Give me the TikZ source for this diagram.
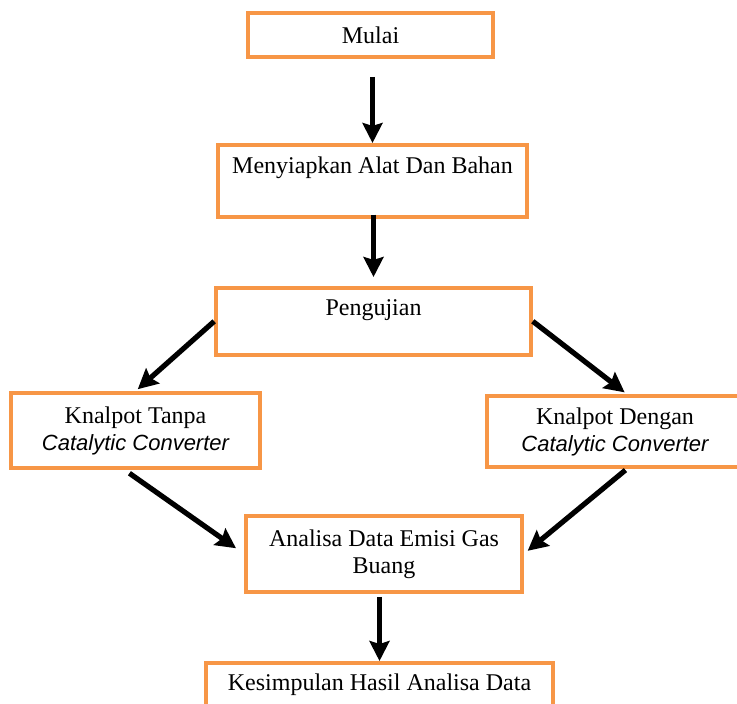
\documentclass[tikz,border=0pt]{standalone}
\usepackage{fontspec}
\setmainfont{Liberation Serif}
\newfontfamily\italsans{Liberation Sans}
\usetikzlibrary{
		positioning,
		arrows.meta
	}
\definecolor{boxorange}{RGB}{247,150,70}
\tikzset{
		>={Stealth[length=10pt,width=10pt,inset=1.5pt]},
		flowbox/.style={draw=boxorange, line width=1.8pt, inner xsep=0pt, inner ysep=0pt, align=center, font=\fontsize{12}{13.5}\selectfont},
		flow/.style={->, line width=2.6pt, black}
	}
\newcommand{\cc}{{\italsans\itshape\fontsize{11}{13.5}\selectfont Catalytic Converter}}

\begin{document}
\begin{tikzpicture}[x=0.5pt, y=-0.5pt] % (one unit = one pixel of the reference)
		\clip (0,0) rectangle (737,704);
		% boxes
		\node[flowbox, minimum width=122.5pt, minimum height=22pt] (mulai) at (370.5,35) {Mulai};
		\node[flowbox, anchor=north, minimum width=154.5pt, text height=14.5pt, text depth=21.5pt] (siap) at (372.5,143) {Menyiapkan Alat Dan Bahan};
		\node[flowbox, anchor=north, minimum width=157.5pt, text height=14pt, text depth=19.5pt] (uji) at (373.5,286) {Pengujian};
		\node[flowbox, minimum width=124.5pt, minimum height=37.5pt] (tanpa) at (135.5,430.5) {Knalpot Tanpa\\\cc};
		\node[flowbox, minimum width=128pt, minimum height=35.5pt] (dengan) at (615,431.5) {Knalpot Dengan\\\cc};
		\node[flowbox, minimum width=138pt, minimum height=38pt] (analisa) at (384,554) {Analisa Data Emisi Gas\\Buang};
		\node[flowbox, anchor=north, minimum width=173.5pt, text height=14pt, text depth=30pt] (simpul) at (379.5,661) {Kesimpulan Hasil Analisa Data};
		% arrows
		\draw[flow, shorten <=9pt] (siap.north |- mulai.south) -- (siap.north);
		\draw[flow, shorten <=-2pt, shorten >=4.5pt] (uji.north |- siap.south) -- (uji.north);
		\draw[flow, shorten >=1.5pt] (uji.west) -- (tanpa.north);
		\draw[flow, shorten >=1.5pt] (uji.east) -- ([xshift=6pt]dengan.north);
		\draw[flow, shorten <=3pt, shorten >=5pt] ([xshift=-5.5pt]tanpa.south) -- (analisa.west);
		\draw[flow, shorten <=1pt, shorten >=2.5pt] ([xshift=6pt]dengan.south) -- (analisa.east);
		\draw[flow, shorten <=1.5pt] (simpul.north |- analisa.south) -- (simpul.north);
	\end{tikzpicture}
\end{document}
